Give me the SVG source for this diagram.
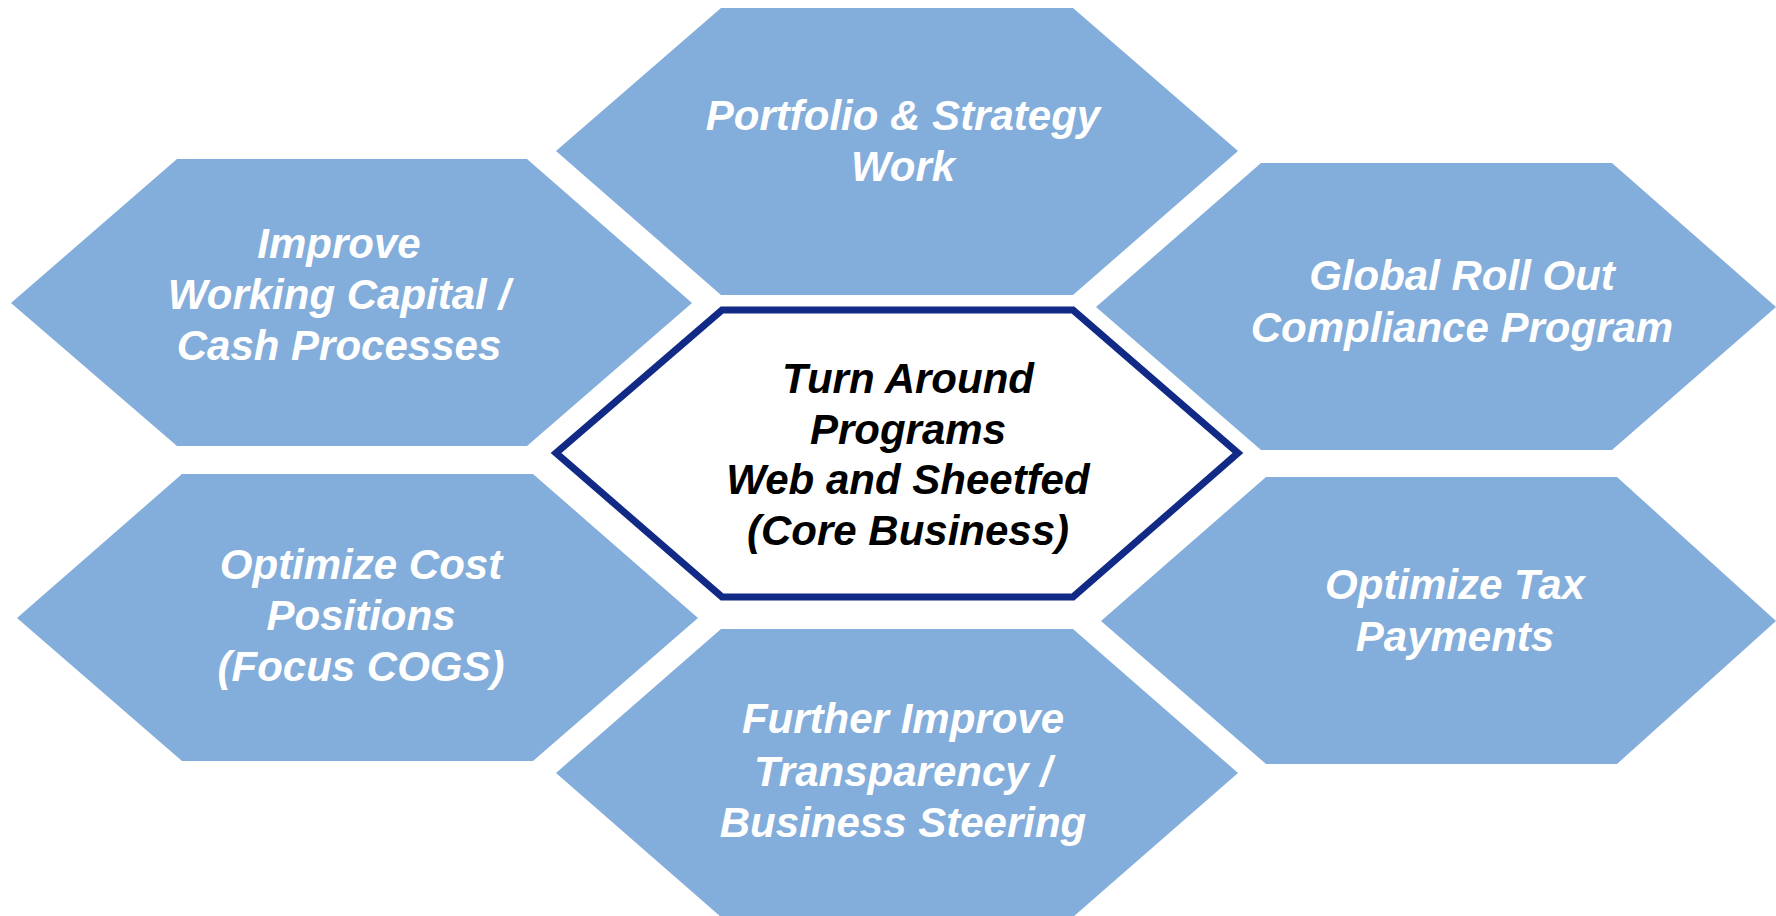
<svg xmlns="http://www.w3.org/2000/svg" width="1776" height="916" viewBox="0 0 1776 916">
  <style>
    .hex { fill: #83ADDA; }
    .core { fill: #FFFFFF; stroke: #112A85; stroke-width: 7; stroke-linejoin: miter; }
    .lbl { font-family: "Liberation Sans", Arial, sans-serif; font-size: 42px; font-weight: bold; font-style: italic; text-anchor: middle; fill: #FFFFFF; }
    .lbl-core { fill: #000000; }
  </style>
  <rect width="1776" height="916" fill="#FFFFFF"/>

  <g id="connectors"></g>

  <!-- Top: Portfolio & Strategy Work -->
  <g id="node-portfolio">
    <polygon class="hex" points="721,8 1073,8 1238,151 1073,295 721,295 556,151"/>
    <text class="lbl" x="903" y="130">Portfolio &amp; Strategy</text>
    <text class="lbl" x="903" y="181">Work</text>
  </g>

  <!-- Upper left: Working Capital -->
  <g id="node-working-capital">
    <polygon class="hex" points="177,159 527,159 692,303 527,446 177,446 11,303"/>
    <text class="lbl" x="339" y="258">Improve</text>
    <text class="lbl" x="339" y="309">Working Capital /</text>
    <text class="lbl" x="339" y="360">Cash Processes</text>
  </g>

  <!-- Upper right: Compliance -->
  <g id="node-compliance">
    <polygon class="hex" points="1261,163 1612,163 1776,307 1612,450 1261,450 1096,307"/>
    <text class="lbl" x="1462" y="290">Global Roll Out</text>
    <text class="lbl" x="1462" y="342">Compliance Program</text>
  </g>

  <!-- Lower left: Cost Positions -->
  <g id="node-cost">
    <polygon class="hex" points="182,474 533,474 698,618 533,761 182,761 17,618"/>
    <text class="lbl" x="361" y="579">Optimize Cost</text>
    <text class="lbl" x="361" y="630">Positions</text>
    <text class="lbl" x="361" y="681">(Focus COGS)</text>
  </g>

  <!-- Lower right: Tax -->
  <g id="node-tax">
    <polygon class="hex" points="1266,477 1617,477 1776,621 1617,764 1266,764 1101,621"/>
    <text class="lbl" x="1455" y="599">Optimize Tax</text>
    <text class="lbl" x="1455" y="651">Payments</text>
  </g>

  <!-- Bottom: Transparency -->
  <g id="node-transparency">
    <polygon class="hex" points="721,629 1073,629 1238,773 1073,917 721,917 556,773"/>
    <text class="lbl" x="903" y="733">Further Improve</text>
    <text class="lbl" x="903" y="786">Transparency /</text>
    <text class="lbl" x="903" y="837">Business Steering</text>
  </g>

  <!-- Centre: core turnaround programme -->
  <g id="node-core">
    <polygon class="core" points="722,310 1073,310 1238,453 1073,597 722,597 556,453"/>
    <text class="lbl lbl-core" x="908" y="393">Turn Around</text>
    <text class="lbl lbl-core" x="908" y="444">Programs</text>
    <text class="lbl lbl-core" x="908" y="494">Web and Sheetfed</text>
    <text class="lbl lbl-core" x="908" y="545">(Core Business)</text>
  </g>
</svg>
